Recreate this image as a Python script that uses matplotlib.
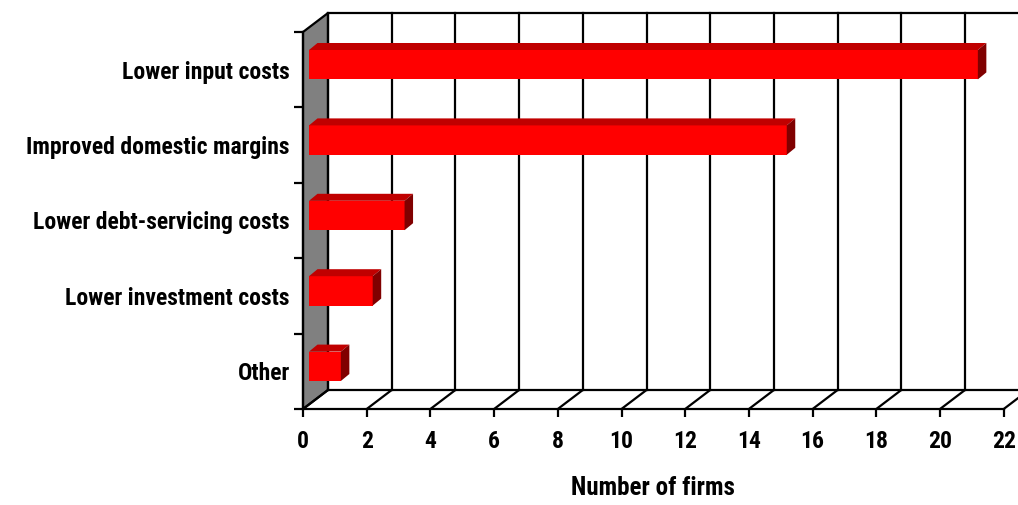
import matplotlib.pyplot as plt
from matplotlib.patches import Polygon
from matplotlib.transforms import ScaledTranslation

categories = ['Lower input costs', 'Improved domestic margins',
              'Lower debt-servicing costs', 'Lower investment costs', 'Other']
firms = [21, 15, 3, 2, 1]
x_ticks = list(range(0, 23, 2))
x_max = 22

FONT = ['Roboto Condensed', 'Liberation Sans']
W, H = 1018, 505

# pixel offsets (right, up) used to fake the 3-D box
WALL = (25, 19)      # back wall relative to front plane
FRONT = (6, 5)       # bar front face relative to front plane
DEPTH = (8.5, 7)     # bar thickness
BAR_H = 0.39

fig = plt.figure(figsize=(W / 100, H / 100), dpi=100)
ax = fig.add_axes([303 / W, (H - 409) / H, 700.7 / W, 377 / H])
ax.set_xlim(0, x_max)
ax.set_ylim(len(categories) - 0.5, -0.5)
ymin, ymax = len(categories) - 0.5, -0.5   # bottom, top in data units


def at(x, y, dx=0.0, dy=0.0):
    """Data point moved by (dx, dy) display pixels, back in data units."""
    X, Y = ax.transData.transform((x, y))
    return ax.transData.inverted().transform((X + dx, Y + dy))


def line(p, q, **kw):
    ax.plot([p[0], q[0]], [p[1], q[1]], color='black', lw=1.6,
            solid_capstyle='projecting', clip_on=False, **kw)


# left wall
ax.add_patch(Polygon([at(0, ymin), at(0, ymax), at(0, ymax, *WALL), at(0, ymin, *WALL)],
                     closed=True, facecolor='#808080', edgecolor='black', lw=1.6,
                     clip_on=False, zorder=1))

# back wall frame and grid
line(at(0, ymax, *WALL), at(x_max + 2, ymax, *WALL), zorder=1)
line(at(0, ymin, *WALL), at(x_max, ymin, *WALL), zorder=1)
for x in x_ticks:
    line(at(x, ymin, *WALL), at(x, ymax, *WALL), zorder=1)
    # floor diagonals
    line(at(x, ymin), at(x, ymin, *WALL), zorder=1)

# bars: front, top and side faces
front_tr = ax.transData + ScaledTranslation(FRONT[0] / 100, FRONT[1] / 100, fig.dpi_scale_trans)
fd = (FRONT[0] + DEPTH[0], FRONT[1] + DEPTH[1])
for i, v in enumerate(firms):
    top, bot = i - BAR_H / 2, i + BAR_H / 2
    ax.barh(i, v, height=BAR_H, color='#ff0000', transform=front_tr,
            clip_on=False, zorder=5)
    ax.add_patch(Polygon([at(0, top, *FRONT), at(v, top, *FRONT), at(v, top, *fd), at(0, top, *fd)],
                         closed=True, facecolor='#c00000', edgecolor='none',
                         clip_on=False, zorder=5))
    ax.add_patch(Polygon([at(v, top, *FRONT), at(v, bot, *FRONT), at(v, bot, *fd), at(v, top, *fd)],
                         closed=True, facecolor='#800000', edgecolor='none',
                         clip_on=False, zorder=5))

for s in ['top', 'right']:
    ax.spines[s].set_visible(False)
for s in ['left', 'bottom']:
    ax.spines[s].set_linewidth(1.6)
    ax.spines[s].set_zorder(2)
ax.spines['bottom'].set_bounds(0, x_max)

ax.set_xticks(x_ticks)
ax.set_xticklabels([str(t) for t in x_ticks], family=FONT, weight='bold', fontsize=17)
ax.tick_params(axis='x', length=6, width=1.6, pad=9)

ax.set_yticks(range(len(categories)))
ax.set_yticklabels(categories, family=FONT, weight='bold', fontsize=17)
ax.set_yticks([i - 0.5 for i in range(len(categories) + 1)], minor=True)
ax.tick_params(axis='y', which='major', length=0, pad=9.5)
ax.tick_params(axis='y', which='minor', length=6.5, width=1.6)

ax.set_xlabel('Number of firms', family=FONT, weight='bold', fontsize=18, labelpad=17)
ax.patch.set_visible(False)

fig.savefig('out.png', dpi=100)
